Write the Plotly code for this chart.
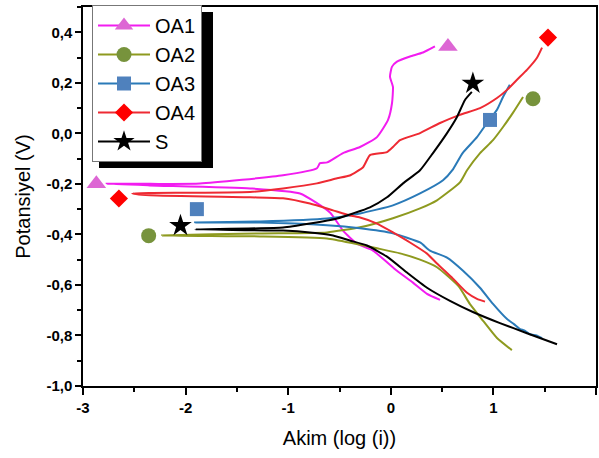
import plotly.graph_objects as go

# ---------------- data ----------------
series = ["OA1", "OA2", "OA3", "OA4", "S"]

# each curve: cathodic end -> corrosion potential (left) -> anodic end
oa1_x = [0.48, 0.353, 0.216, 0.06, -0.174, -0.33, -0.466, -0.593, -0.885, -1.37, -2.35, -2.77,
         -2.35, -1.86, -1.05, -0.72, -0.69, -0.62, -0.466, -0.30, -0.135, -0.027, 0.012, 0.021,
         -0.008, 0.012, 0.06, 0.187, 0.314, 0.43]
oa1_y = [-0.659, -0.635, -0.591, -0.544, -0.464, -0.437, -0.385, -0.313, -0.238, -0.218, -0.206, -0.20,
         -0.200, -0.199, -0.166, -0.138, -0.118, -0.115, -0.078, -0.054, -0.015, 0.053, 0.120, 0.184,
         0.224, 0.264, 0.284, 0.304, 0.320, 0.344]

oa2_x = [1.18, 1.035, 0.90, 0.77, 0.66, 0.45, 0.285, 0.09, -0.134, -0.368, -0.622, -1.275, -2.23,
         -1.275, -0.622, -0.30, 0.021, 0.285, 0.45, 0.674, 0.743, 0.87, 0.996, 1.094, 1.19, 1.289]
oa2_y = [-0.858, -0.81, -0.742, -0.675, -0.605, -0.53, -0.50, -0.475, -0.455, -0.435, -0.416, -0.408, -0.404,
         -0.396, -0.392, -0.372, -0.336, -0.297, -0.265, -0.194, -0.146, -0.078, -0.027, 0.025, 0.081, 0.144]

oa3_x = [1.474, 1.42, 1.357, 1.30, 1.26, 1.20, 1.133, 0.996, 0.869, 0.704, 0.548, 0.382, 0.285, 0.021,
         -0.30, -0.622, -1.275, -1.908,
         -1.275, -0.622, -0.30, 0.021, 0.285, 0.509, 0.60, 0.70, 0.84, 0.938, 1.035, 1.094, 1.16]
oa3_y = [-0.811, -0.800, -0.795, -0.780, -0.775, -0.755, -0.735, -0.675, -0.611, -0.544, -0.492, -0.464, -0.432, -0.396,
         -0.376, -0.364, -0.353, -0.353,
         -0.349, -0.337, -0.317, -0.285, -0.238, -0.186, -0.146, -0.078, -0.015, 0.041, 0.093, 0.144, 0.192]

oa4_x = [0.918, 0.84, 0.743, 0.606, 0.45, 0.353, 0.187, 0.021, -0.134, -0.30, -0.40, -0.563, -0.788, -1.05,
         -1.372, -2.347, -2.52,
         -2.347, -1.372, -1.05, -0.72, -0.524, -0.40, -0.27, -0.203, -0.037, 0.021, 0.09, 0.285, 0.48,
         0.674, 0.87, 1.035, 1.133, 1.23, 1.327, 1.425, 1.474]
oa4_y = [-0.666, -0.655, -0.631, -0.575, -0.515, -0.476, -0.432, -0.392, -0.357, -0.333, -0.325, -0.305, -0.278, -0.257,
         -0.253, -0.245, -0.238,
         -0.236, -0.232, -0.218, -0.198, -0.178, -0.167, -0.134, -0.086, -0.074, -0.054, -0.027, 0.001, 0.041,
         0.073, 0.10, 0.14, 0.172, 0.212, 0.251, 0.299, 0.339]

s_x = [1.62, 1.327, 1.064, 0.80, 0.577, 0.353, 0.158, -0.037, -0.232, -0.40, -0.563, -0.788, -1.05, -1.908,
       -1.05, -0.788, -0.524, -0.368, -0.203, -0.037, 0.119, 0.285, 0.411, 0.548, 0.645, 0.723, 0.79]
s_y = [-0.835, -0.791, -0.751, -0.707, -0.663, -0.611, -0.551, -0.488, -0.444, -0.424, -0.404, -0.392, -0.385, -0.380,
       -0.373, -0.357, -0.337, -0.317, -0.293, -0.253, -0.198, -0.146, -0.078, 0.001, 0.065, 0.132, 0.164]

# marker symbols placed at both ends of each curve
marker_x = {"OA1": [-2.87, 0.557], "OA2": [-2.36, 1.386], "OA3": [-1.89, 0.967],
            "OA4": [-2.65, 1.532], "S": [-2.05, 0.80]}
marker_y = {"OA1": [-0.20, 0.344], "OA2": [-0.405, 0.137], "OA3": [-0.30, 0.053],
            "OA4": [-0.258, 0.379], "S": [-0.365, 0.198]}

x_ticks = [-3, -2, -1, 0, 1, 2]
x_labels = ["-3", "-2", "-1", "0", "1", "2"]
y_ticks = [-1.0, -0.8, -0.6, -0.4, -0.2, 0.0, 0.2, 0.4]
y_labels = ["-1,0", "-0,8", "-0,6", "-0,4", "-0,2", "0,0", "0,2", "0,4"]

# ---------------- styles ----------------
curves = {"OA1": (oa1_x, oa1_y), "OA2": (oa2_x, oa2_y), "OA3": (oa3_x, oa3_y),
          "OA4": (oa4_x, oa4_y), "S": (s_x, s_y)}
line_col = {"OA1": "#F21CF0", "OA2": "#8E9A1F", "OA3": "#2A7AB8", "OA4": "#EE2A33", "S": "#000000"}
mk_col = {"OA1": "#DD66D4", "OA2": "#77933C", "OA3": "#4F81BD", "OA4": "#FF0000", "S": "#000000"}
mk_sym = {"OA1": "triangle-up", "OA2": "circle", "OA3": "square", "OA4": "diamond", "S": "star"}
mk_size = {"OA1": 17, "OA2": 15, "OA3": 14, "OA4": 14, "S": 17}

fig = go.Figure()
for name in series:
    cx, cy = curves[name]
    fig.add_trace(go.Scatter(x=cx, y=cy, mode="lines", showlegend=False,
                             line=dict(color=line_col[name], width=2, shape="spline", smoothing=0.5),
                             hoverinfo="skip"))
    fig.add_trace(go.Scatter(x=marker_x[name], y=marker_y[name], mode="markers", showlegend=False,
                             marker=dict(symbol=mk_sym[name], size=mk_size[name], color=mk_col[name],
                                         line=dict(width=0))))
for name in series:
    fig.add_trace(go.Scatter(x=[None], y=[None], mode="lines+markers", name=name,
                             line=dict(color=line_col[name], width=2),
                             marker=dict(symbol=mk_sym[name], size=mk_size[name], color=mk_col[name],
                                         line=dict(width=0))))

# legend drop shadow (plot area: x 83..596 px, y 7..386 px)
fig.add_shape(type="rect", xref="paper", yref="paper",
              x0=(99 - 83) / 513, x1=(213 - 83) / 513,
              y0=(386 - 168) / 379, y1=(386 - 12) / 379,
              fillcolor="black", line=dict(width=0), layer="above")

fig.update_layout(
    width=599, height=458,
    margin=dict(l=83, r=3, t=7, b=72, autoexpand=False),
    paper_bgcolor="white", plot_bgcolor="white",
    font=dict(family="Liberation Sans, Arial", color="black"),
    showlegend=True,
    legend=dict(x=(92 - 83) / 513, y=1.0 + 2 / 379, xanchor="left", yanchor="top",
                bgcolor="white", bordercolor="#777777", borderwidth=1,
                font=dict(family="Liberation Sans, Arial", size=20, color="black"),
                tracegroupgap=0, itemwidth=52),
    xaxis=dict(range=[-3, 2], tickvals=x_ticks, ticktext=x_labels,
               ticks="outside", ticklen=7, tickwidth=1.5, tickcolor="black",
               minor=dict(ticks="outside", ticklen=4, tickwidth=1.5, tickcolor="black", dtick=0.5),
               showline=True, linecolor="black", linewidth=1.5, mirror=True,
               showgrid=False, zeroline=False,
               tickfont=dict(family="Liberation Sans, Arial", size=15, color="black", weight="bold"),
               title=dict(text="Akim (log (i))", font=dict(size=20, color="black"), standoff=16)),
    yaxis=dict(range=[-1.0, 0.5], tickvals=y_ticks, ticktext=y_labels,
               ticks="outside", ticklen=6, tickwidth=1.5, tickcolor="black",
               minor=dict(ticks="outside", ticklen=4, tickwidth=1.5, tickcolor="black", dtick=0.1),
               showline=True, linecolor="black", linewidth=1.5, mirror=True,
               showgrid=False, zeroline=False,
               tickfont=dict(family="Liberation Sans, Arial", size=15, color="black", weight="bold"),
               title=dict(text="Potansiyel (V)", font=dict(size=20, color="black"), standoff=10)),
)

fig.write_html("out.html", config={"displayModeBar": False},
               post_script="document.body.style.margin='0px';")
